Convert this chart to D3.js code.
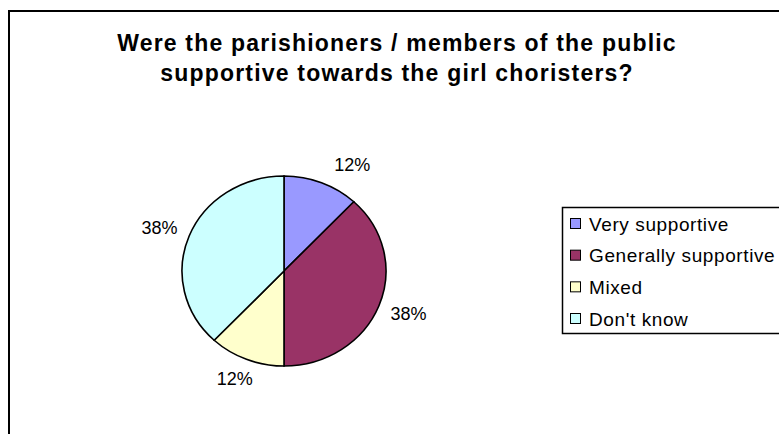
<!DOCTYPE html>
<html>
<head>
<meta charset="utf-8">
<script src="https://cdn.jsdelivr.net/npm/d3@7/dist/d3.min.js"></script>
<style>
  html, body { margin: 0; padding: 0; background: #fff; }
  svg { display: block; font-family: "Liberation Sans", Arial, sans-serif; }
</style>
</head>
<body>
<svg id="chart" width="779" height="434"></svg>
<script>
// Survey answers and their shares (percent)
const categories = ["Very supportive", "Generally supportive", "Mixed", "Don't know"];
const shares = [12, 38, 12, 38];
const colors = ["#9999FF", "#993366", "#FFFFCC", "#CCFFFF"];
const titleLines = [
  "Were the parishioners / members of the public",
  "supportive towards the girl choristers?"
];

const svg = d3.select("#chart");
const W = 779, H = 434;

svg.append("rect").attr("width", W).attr("height", H).attr("fill", "#fff");

// Chart area frame (runs past the right and bottom edges)
svg.append("rect")
  .attr("x", 9).attr("y", 11)
  .attr("width", 820).attr("height", 480)
  .attr("fill", "none").attr("stroke", "#000").attr("stroke-width", 2);

// Title
const title = svg.append("text")
  .attr("text-anchor", "middle")
  .attr("font-weight", "bold")
  .attr("font-size", 23)
  .attr("letter-spacing", 1.2)
  .attr("fill", "#000");
titleLines.forEach((line, i) => {
  title.append("tspan")
    .attr("x", 397)
    .attr("y", 51 + i * 30)
    .text(line);
});

// Pie (slightly wider than tall)
const cx = 284, cy = 271, rx = 102, ry = 95;
const sy = ry / rx;
const pie = d3.pie().sort(null).value(d => d.value);
const arcs = pie(categories.map((c, i) => ({ name: c, value: shares[i], color: colors[i] })));
const arc = d3.arc().innerRadius(0).outerRadius(rx);

const pieG = svg.append("g")
  .attr("transform", `translate(${cx},${cy}) scale(1,${sy})`);
pieG.selectAll("path")
  .data(arcs)
  .join("path")
  .attr("d", arc)
  .attr("fill", d => d.data.color)
  .attr("stroke", "#000")
  .attr("stroke-width", 1.6)
  .attr("vector-effect", "non-scaling-stroke");

// Percentage labels placed just outside each slice
const labelR = rx + 14;
const labelH = 17;
const nudge = { "Very supportive": [19, 2] };
const labels = svg.append("g")
  .attr("font-size", 18)
  .attr("fill", "#000");
arcs.forEach(d => {
  const a = (d.startAngle + d.endAngle) / 2;
  const t = labels.append("text")
    .attr("text-anchor", "middle")
    .attr("dominant-baseline", "central")
    .text(d3.format(".0f")(d.data.value) + "%");
  const w = t.node().getComputedTextLength();
  const off = nudge[d.data.name] || [0, 0];
  const x = cx + labelR * Math.sin(a) + Math.sin(a) * w / 2 + off[0];
  const y = cy - labelR * Math.cos(a) * sy - Math.cos(a) * labelH / 2 + off[1];
  t.attr("x", x).attr("y", y);
});

// Legend
const legend = svg.append("g");
legend.append("rect")
  .attr("x", 562.5).attr("y", 207.5)
  .attr("width", 300).attr("height", 126)
  .attr("fill", "#fff").attr("stroke", "#000").attr("stroke-width", 1.5);

const rowY = d3.scalePoint().domain(categories).range([224, 319]);
const items = legend.selectAll("g.item")
  .data(categories.map((c, i) => ({ name: c, color: colors[i] })))
  .join("g")
  .attr("class", "item")
  .attr("transform", d => `translate(0,${rowY(d.name)})`);
items.append("rect")
  .attr("x", 570.5).attr("y", -5.5)
  .attr("width", 10).attr("height", 10)
  .attr("fill", d => d.color)
  .attr("stroke", "#000").attr("stroke-width", 1);
items.append("text")
  .attr("x", 589).attr("y", 0)
  .attr("dominant-baseline", "central")
  .attr("font-size", 19)
  .attr("letter-spacing", 0.6)
  .attr("fill", "#000")
  .text(d => d.name);
</script>
</body>
</html>
